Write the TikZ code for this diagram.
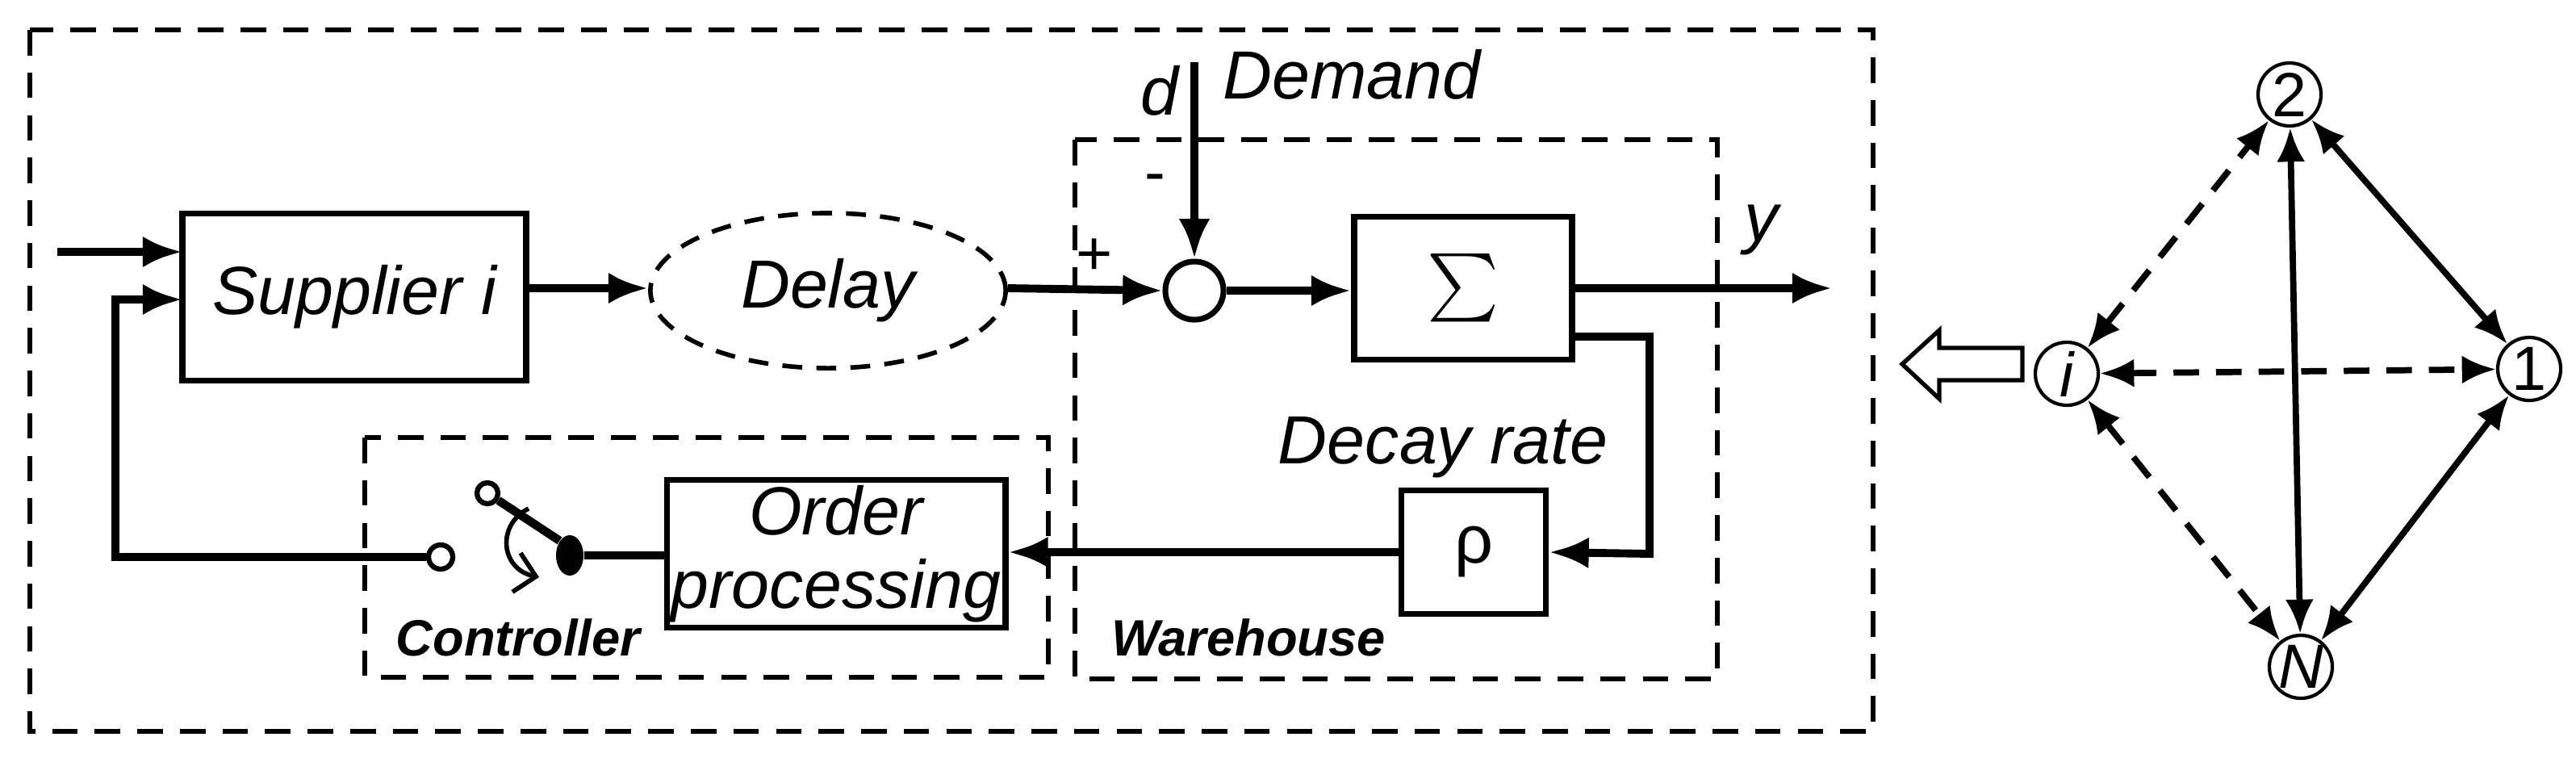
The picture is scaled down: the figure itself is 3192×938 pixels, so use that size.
\documentclass[tikz,border=0pt]{standalone}
\usepackage{fontspec}
\setmainfont{Liberation Sans}
\usetikzlibrary{arrows.meta,shapes.geometric}
\begin{document}
\begin{tikzpicture}[x=0.01cm,y=-0.01cm,
  blk/.style={draw,line width=2.2pt,minimum width=0cm},
  dbox/.style={draw,line width=1.6pt,dash pattern=on 9pt off 6pt},
  con/.style={line width=2.8pt,-{Latex[length=14pt,width=11pt]}},
  lbl/.style={font=\fontsize{24}{28}\selectfont\itshape},
  bl/.style={font=\fontsize{18}{22}\selectfont\bfseries\itshape},
  nn/.style={draw,circle,line width=1.2pt,minimum size=0.78cm,inner sep=0pt,font=\fontsize{22}{24}\selectfont},
  net/.style={line width=2.2pt,{Latex[length=12pt,width=10pt]}-{Latex[length=12pt,width=10pt]}},
  netd/.style={net,dash pattern=on 9pt off 6pt}]
\useasboundingbox (0,0) rectangle (3192,938);
% boxes
\draw[dbox] (37,37) rectangle (2321,906);
\draw[dbox] (1332,173) rectangle (2128,841);
\draw[dbox] (452,542) rectangle (1299,839);
\node[blk,minimum width=4.26cm,minimum height=2.07cm,lbl] (sup) at (439,368) {Supplier i};
\node[draw,ellipse,line width=1.6pt,dash pattern=on 7pt off 5pt,minimum width=4.4cm,minimum height=1.92cm,lbl] (del) at (1026,360) {Delay};
\node[draw,circle,line width=2pt,minimum size=0.72cm,inner sep=0pt] (sum) at (1480,360) {};
\node[blk,minimum width=2.7cm,minimum height=1.77cm] (sig) at (1813,357) {\scalebox{2.4}{$\sum$}};
\node[blk,minimum width=1.79cm,minimum height=1.53cm,font=\fontsize{24}{28}\selectfont] (rho) at (1826,684) {ρ};
\node[blk,minimum width=4.19cm,minimum height=1.83cm,align=center,lbl,inner sep=0pt] (ord) at (1036,686) {Order\\[-2pt]processing};
% labels
\node[lbl] (yl) at (2183,285) {y};
\node[lbl] (dl) at (1437,112) {d};
\node[lbl] (dem) at (1675,92) {Demand};
\node[font=\fontsize{22}{24}\selectfont] (mi) at (1431,228) {-};
\node[font=\fontsize{22}{24}\selectfont] (pl) at (1356,318) {+};
\node[lbl] (dr) at (1788,554) {Decay rate};
\node[bl] (ctl) at (642,790) {Controller};
\node[bl] (wh) at (1547,790) {Warehouse};
\coordinate (yend) at (2270,357);
\coordinate (dtop) at (1480,77);
\coordinate (inp) at (71,312);
% main connectors
\draw[con] (inp) -- (226,312);
\draw[con] (sup.east |- 0,357) -- (del.west |- 0,357);
\draw[con] (del.east |- 0,357) -- (sum.west);
\draw[con] (sum.east) -- (sig.west |- sum.east);
\draw[con] (sig.east |- 0,357) -- (yend);
\draw[con] (dtop) -- (sum.north);
\draw[con] (sig.east |- 0,417) -- (2044,417) -- (2044,686) -- (rho.east);
\draw[con] (rho.west) -- (ord.east |- rho.west);
% switch
\node[draw,circle,line width=1.8pt,minimum size=0.3cm,inner sep=0pt] (oc) at (546,690) {};
\node[fill,ellipse,minimum width=0.34cm,minimum height=0.5cm,inner sep=0pt] (dot) at (706,688) {};
\node[draw,circle,line width=1.8pt,minimum size=0.26cm,inner sep=0pt] (tc) at (604,611) {};
\draw[line width=2.8pt] (dot) -- (ord.west |- dot);
\draw[line width=3pt] (dot.north west) -- (tc);
\draw[line width=1.6pt,-{Straight Barb[length=7pt]}] (655,630) .. controls (615,650) and (620,705) .. (668,715);
\draw[con] (oc.west) -- (143,690) -- (143,371) -- (226,371);
% network
\node[nn] (n2) at (2837,117) {2};
\node[nn] (n1) at (3134,457) {1};
\node[nn,font=\fontsize{22}{24}\selectfont\itshape] (ni) at (2561,463) {i};
\node[nn,font=\fontsize{22}{24}\selectfont\itshape] (nN) at (2851,826) {N};
\draw[net] (n2) -- (n1);
\draw[net] (n2) -- (nN);
\draw[net] (n1) -- (nN);
\draw[netd] (ni) -- (n2);
\draw[netd] (ni) -- (n1);
\draw[netd] (ni) -- (nN);
\draw[line width=1.5pt] (2506,431) -- (2403,431) -- (2403,409) -- (2357,451) -- (2403,494) -- (2403,471) -- (2506,471) -- cycle;
\end{tikzpicture}
\end{document}
